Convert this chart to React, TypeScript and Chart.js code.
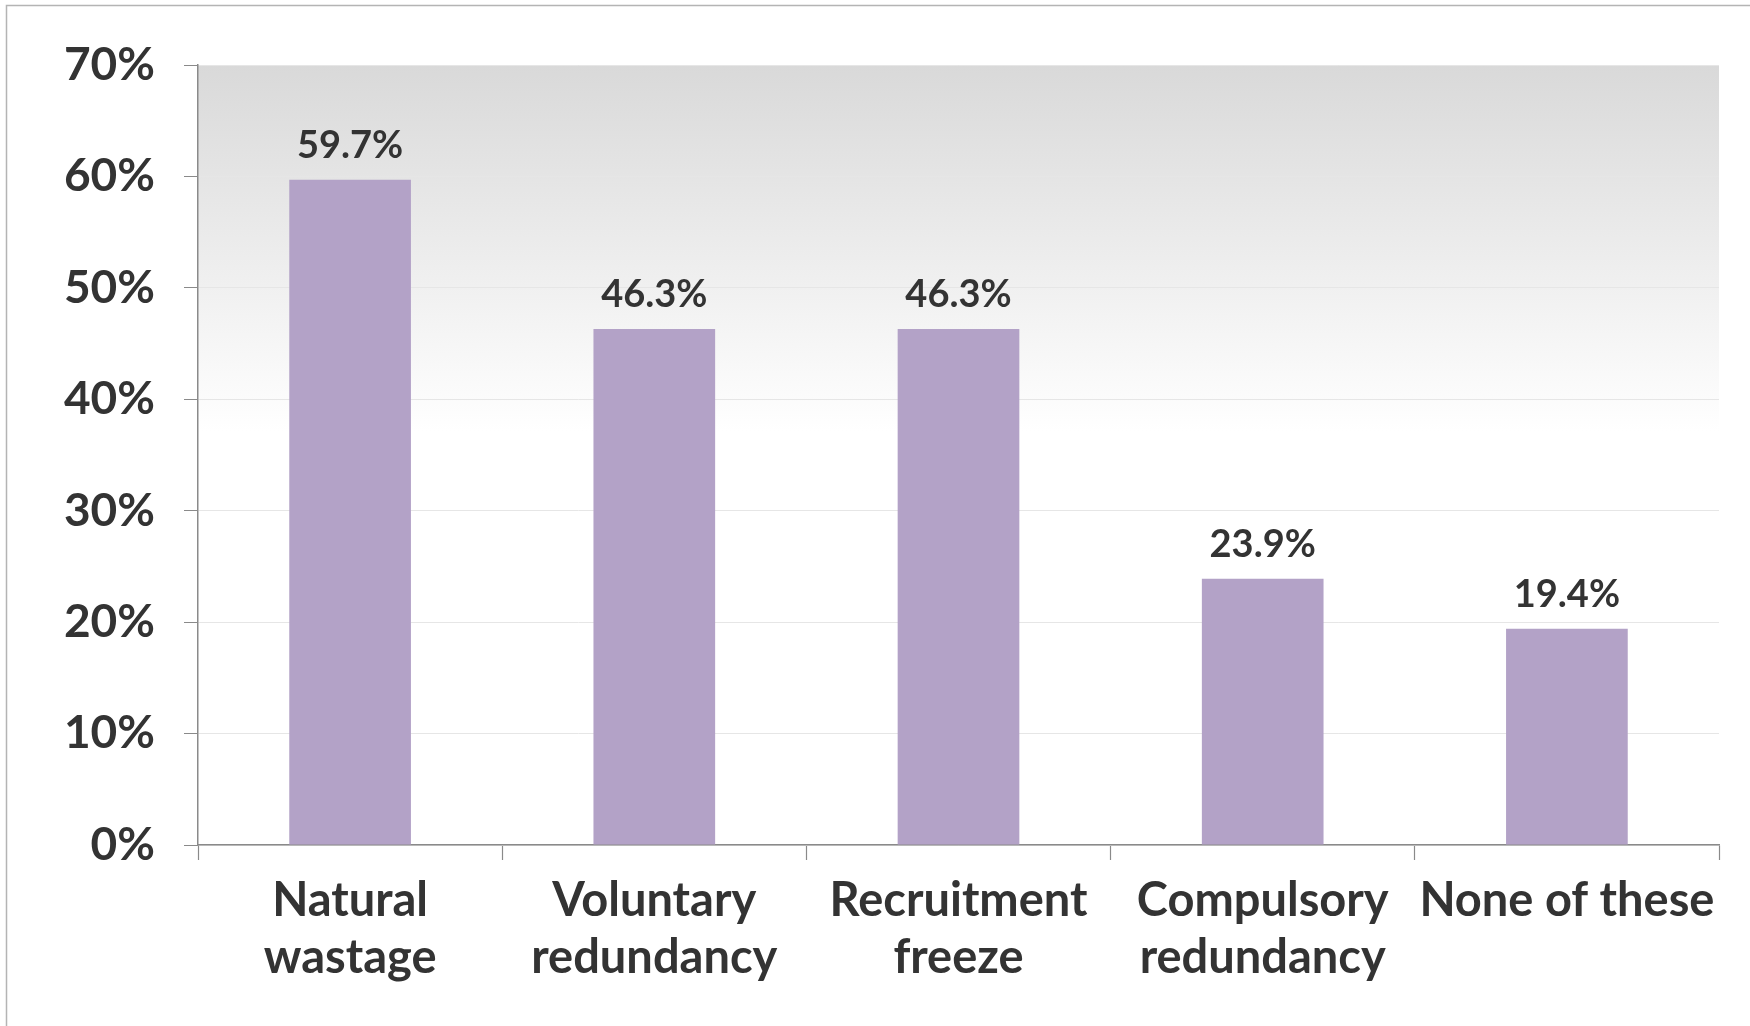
import React, { useEffect, useRef } from "react";
import { Chart, registerables } from "chart.js";

Chart.register(...registerables);

const categories: string[][] = [
  ["Natural", "wastage"],
  ["Voluntary", "redundancy"],
  ["Recruitment", "freeze"],
  ["Compulsory", "redundancy"],
  ["None of these"],
];
const values: number[] = [59.7, 46.3, 46.3, 23.9, 19.4];
const yTicks: number[] = [0, 10, 20, 30, 40, 50, 60, 70];

const FONT = "Lato";
const TEXT = "#333333";
const BAR = "#b3a2c7";

const bgPlugin = {
  id: "bgGradient",
  beforeDraw(chart: any) {
    const { ctx, chartArea } = chart;
    if (!chartArea) return;
    const { left, top, right, bottom } = chartArea;
    ctx.save();
    const g = ctx.createLinearGradient(0, top, 0, bottom);
    g.addColorStop(0, "#d9d9d9");
    g.addColorStop(0.47, "#ffffff");
    g.addColorStop(1, "#ffffff");
    ctx.fillStyle = g;
    ctx.fillRect(left, top, right - left, bottom - top);
    ctx.restore();
  },
  afterDraw(chart: any) {
    const { ctx } = chart;
    ctx.save();
    ctx.strokeStyle = "#b4b4b4";
    ctx.lineWidth = 1.5;
    ctx.strokeRect(6.5, 5.5, 3000, 3000);
    ctx.restore();
  },
};

const labelPlugin = {
  id: "valueLabels",
  afterDatasetsDraw(chart: any) {
    const { ctx } = chart;
    const meta = chart.getDatasetMeta(0);
    const data = chart.data.datasets[0].data as number[];
    ctx.save();
    ctx.fillStyle = TEXT;
    ctx.font = `bold 38px ${FONT}`;
    ctx.textAlign = "center";
    ctx.textBaseline = "alphabetic";
    meta.data.forEach((bar: any, i: number) => {
      ctx.fillText(`${data[i].toFixed(1)}%`, bar.x, bar.y - 22);
    });
    ctx.restore();
  },
};

export default function App() {
  const ref = useRef<HTMLCanvasElement | null>(null);

  useEffect(() => {
    document.body.style.margin = "0";
    document.body.style.overflow = "hidden";
    if (!ref.current) return;
    const chart = new Chart(ref.current, {
      type: "bar",
      data: {
        labels: categories,
        datasets: [
          {
            data: values,
            backgroundColor: BAR,
            borderWidth: 0,
            categoryPercentage: 0.8,
            barPercentage: 0.5,
          },
        ],
      },
      options: {
        animation: false,
        responsive: true,
        maintainAspectRatio: false,
        layout: { padding: { left: 0, top: 65, right: 31, bottom: 0 } },
        plugins: {
          legend: { display: false },
          tooltip: { enabled: false },
        },
        scales: {
          x: {
            offset: true,
            grid: {
              offset: true,
              drawOnChartArea: false,
              tickLength: 15,
              tickColor: "#8a8a8a",
              tickWidth: 1.2,
            },
            border: { color: "#8a8a8a", width: 1.5 },
            ticks: {
              color: TEXT,
              font: { family: FONT, size: 47, weight: "bold", lineHeight: 1.2 },
              padding: 13,
              maxRotation: 0,
              autoSkip: false,
            },
            afterFit(s: any) {
              s.height = 181;
            },
          },
          y: {
            min: 0,
            max: 70,
            afterBuildTicks(s: any) {
              s.ticks = yTicks.map((v) => ({ value: v }));
            },
            grid: {
              color: "#e6e6e6",
              tickColor: "#8a8a8a",
              tickLength: 14,
              lineWidth: 1,
            },
            border: { color: "#8a8a8a", width: 1.5 },
            ticks: {
              color: TEXT,
              font: { family: FONT, size: 46, weight: "bold" },
              padding: 29,
              callback: (v: any) => `${v}%`,
            },
            afterFit(s: any) {
              s.width = 198;
            },
          },
        },
      },
      plugins: [bgPlugin, labelPlugin],
    });
    return () => chart.destroy();
  }, []);

  return (
    <div style={{ width: 1750, height: 1026, position: "relative" }}>
      <canvas ref={ref} />
    </div>
  );
}
